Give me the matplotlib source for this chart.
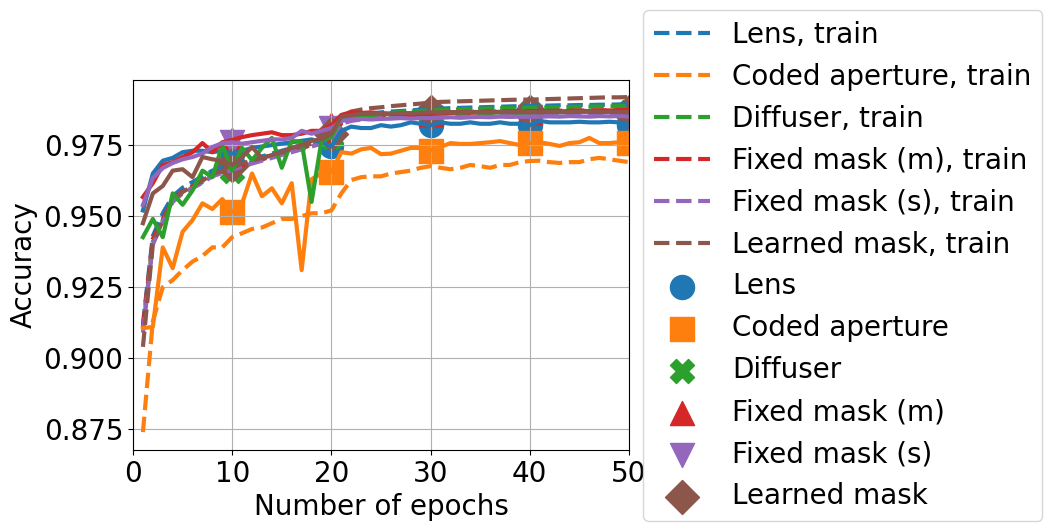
import matplotlib
matplotlib.use("Agg")
import matplotlib.pyplot as plt
import numpy as np

epochs = list(range(1, 51))

lens_train = [0.912, 0.943, 0.951, 0.957, 0.960, 0.962, 0.964, 0.966, 0.967, 0.968,
              0.969, 0.970, 0.971, 0.972, 0.973, 0.974, 0.975, 0.976, 0.9765, 0.977,
              0.9835, 0.9848, 0.9855, 0.986, 0.9865, 0.9868, 0.987, 0.9872, 0.9875, 0.9877,
              0.9878, 0.988, 0.9881, 0.9882, 0.9883, 0.9884, 0.9885, 0.9886, 0.9887, 0.9887,
              0.9888, 0.9889, 0.989, 0.989, 0.9891, 0.9891, 0.9892, 0.9892, 0.9893, 0.9894]
coded_train = [0.874, 0.913, 0.925, 0.9275, 0.931, 0.934, 0.936, 0.939, 0.939, 0.9426,
               0.944, 0.9455, 0.946, 0.9475, 0.949, 0.949, 0.950, 0.951, 0.951, 0.952,
               0.958, 0.9627, 0.9637, 0.964, 0.964, 0.965, 0.9655, 0.966, 0.967, 0.9676,
               0.967, 0.9665, 0.967, 0.968, 0.9676, 0.967, 0.968, 0.968, 0.969, 0.9694,
               0.9695, 0.969, 0.9687, 0.969, 0.969, 0.970, 0.9705, 0.970, 0.9695, 0.969]
diffuser_train = [0.910, 0.941, 0.9485, 0.9555, 0.9585, 0.960, 0.962, 0.9644, 0.9655, 0.9665,
                  0.968, 0.969, 0.970, 0.971, 0.972, 0.973, 0.974, 0.975, 0.976, 0.977,
                  0.983, 0.9842, 0.985, 0.9855, 0.986, 0.9863, 0.9866, 0.9868, 0.987, 0.9872,
                  0.9873, 0.9875, 0.9876, 0.9877, 0.9878, 0.9879, 0.988, 0.988, 0.9881, 0.9882,
                  0.9882, 0.9883, 0.9884, 0.9884, 0.9885, 0.9885, 0.9886, 0.9886, 0.9887, 0.9887]
fixedm_train = [0.911, 0.942, 0.949, 0.9558, 0.9588, 0.9605, 0.9625, 0.9646, 0.9658, 0.9668,
                0.968, 0.969, 0.970, 0.971, 0.972, 0.973, 0.974, 0.975, 0.9758, 0.9768,
                0.9828, 0.984, 0.9846, 0.985, 0.9853, 0.9856, 0.9858, 0.986, 0.9862, 0.9863,
                0.9864, 0.9865, 0.9866, 0.9867, 0.9867, 0.9868, 0.9868, 0.9869, 0.9869, 0.987,
                0.987, 0.987, 0.9871, 0.9871, 0.9871, 0.9872, 0.9872, 0.9872, 0.9873, 0.9873]
fixeds_train = [0.909, 0.940, 0.948, 0.955, 0.958, 0.9598, 0.9618, 0.964, 0.9652, 0.9662,
                0.9675, 0.9685, 0.9695, 0.9705, 0.9715, 0.9725, 0.9735, 0.9745, 0.9755, 0.9765,
                0.9825, 0.9835, 0.984, 0.9843, 0.9845, 0.9847, 0.9849, 0.985, 0.9851, 0.9852,
                0.9853, 0.9853, 0.9854, 0.9855, 0.9855, 0.9856, 0.9856, 0.9857, 0.9857, 0.9857,
                0.9858, 0.9858, 0.9858, 0.9859, 0.9859, 0.9859, 0.986, 0.986, 0.986, 0.986]
learned_train = [0.904, 0.940, 0.9485, 0.9555, 0.9585, 0.9605, 0.9625, 0.9648, 0.966, 0.967,
                 0.9685, 0.9695, 0.9705, 0.9715, 0.9725, 0.9735, 0.9745, 0.9755, 0.9765, 0.978,
                 0.985, 0.9868, 0.9875, 0.988, 0.9883, 0.9887, 0.989, 0.9893, 0.9896, 0.990,
                 0.9902, 0.9903, 0.9904, 0.9905, 0.9906, 0.9907, 0.9908, 0.9909, 0.991, 0.991,
                 0.9911, 0.9912, 0.9913, 0.9914, 0.9915, 0.9916, 0.9917, 0.9918, 0.9918, 0.9919]

lens_test = [0.952, 0.965, 0.9695, 0.9705, 0.9725, 0.973, 0.973, 0.9725, 0.973, 0.972,
             0.973, 0.974, 0.9745, 0.975, 0.9755, 0.976, 0.9765, 0.977, 0.976, 0.9745,
             0.980, 0.9815, 0.981, 0.981, 0.982, 0.9815, 0.982, 0.983, 0.9825, 0.982,
             0.983, 0.9825, 0.9825, 0.983, 0.9825, 0.9825, 0.983, 0.9825, 0.9825, 0.982,
             0.9835, 0.983, 0.983, 0.983, 0.9832, 0.983, 0.983, 0.9832, 0.983, 0.982]
coded_test = [0.9106, 0.911, 0.939, 0.9317, 0.9445, 0.9486, 0.9545, 0.9525, 0.956, 0.9514,
              0.9545, 0.965, 0.957, 0.9598, 0.9545, 0.9616, 0.931, 0.963, 0.965, 0.9655,
              0.9725, 0.972, 0.9735, 0.974, 0.9718, 0.972, 0.973, 0.974, 0.974, 0.973,
              0.9743, 0.9757, 0.9754, 0.9754, 0.9757, 0.976, 0.9764, 0.9757, 0.975, 0.9757,
              0.976, 0.9754, 0.9747, 0.9757, 0.976, 0.9775, 0.9757, 0.9757, 0.976, 0.9757]
diffuser_test = [0.9426, 0.949, 0.9426, 0.958, 0.954, 0.959, 0.966, 0.9637, 0.975, 0.966,
                 0.974, 0.9697, 0.974, 0.9775, 0.967, 0.9765, 0.976, 0.955, 0.9765, 0.9778,
                 0.9845, 0.985, 0.9855, 0.9855, 0.986, 0.9858, 0.986, 0.9862, 0.986, 0.9858,
                 0.9862, 0.9864, 0.9862, 0.9865, 0.9864, 0.9863, 0.9865, 0.9866, 0.9864, 0.9865,
                 0.9866, 0.9867, 0.9865, 0.9866, 0.9868, 0.9867, 0.9866, 0.9868, 0.9867, 0.9868]
fixedm_test = [0.9567, 0.9616, 0.968, 0.969, 0.9708, 0.9725, 0.9757, 0.9725, 0.976, 0.9768,
               0.9778, 0.9785, 0.979, 0.9795, 0.9785, 0.9785, 0.979, 0.980, 0.980, 0.982,
               0.9856, 0.9866, 0.9863, 0.9865, 0.9862, 0.986, 0.9858, 0.9855, 0.9858, 0.986,
               0.9862, 0.9864, 0.9866, 0.9864, 0.9866, 0.9868, 0.9866, 0.9867, 0.9868, 0.9866,
               0.9868, 0.987, 0.9868, 0.987, 0.9871, 0.9869, 0.9871, 0.9872, 0.987, 0.9873]
fixeds_test = [0.9539, 0.9634, 0.9669, 0.9687, 0.970, 0.9708, 0.972, 0.9743, 0.9757, 0.976,
               0.9755, 0.976, 0.9765, 0.977, 0.977, 0.9775, 0.980, 0.979, 0.980, 0.981,
               0.9835, 0.984, 0.9842, 0.984, 0.9842, 0.9843, 0.9845, 0.9843, 0.9845, 0.9845,
               0.9846, 0.9848, 0.9846, 0.9848, 0.9849, 0.9848, 0.985, 0.9849, 0.985, 0.9849,
               0.985, 0.9851, 0.985, 0.9852, 0.9851, 0.985, 0.9852, 0.9851, 0.9852, 0.985]
learned_test = [0.9475, 0.958, 0.9606, 0.966, 0.9665, 0.9637, 0.9708, 0.970, 0.9695, 0.968,
                0.9708, 0.9743, 0.9704, 0.9715, 0.9725, 0.974, 0.975, 0.9765, 0.977, 0.979,
                0.985, 0.9855, 0.986, 0.986, 0.9862, 0.986, 0.9863, 0.9862, 0.9864, 0.9865,
                0.9864, 0.9866, 0.9865, 0.9867, 0.9866, 0.9865, 0.9867, 0.9866, 0.9867, 0.9866,
                0.9867, 0.9866, 0.9867, 0.9866, 0.9867, 0.9868, 0.9866, 0.9867, 0.9866, 0.9866]

names = ["Lens", "Coded aperture", "Diffuser", "Fixed mask (m)", "Fixed mask (s)", "Learned mask"]
train_series = [lens_train, coded_train, diffuser_train, fixedm_train, fixeds_train, learned_train]
test_series = [lens_test, coded_test, diffuser_test, fixedm_test, fixeds_test, learned_test]
markers = ["o", "s", "X", "^", "v", "D"]
colors = ["#1f77b4", "#ff7f0e", "#2ca02c", "#d62728", "#9467bd", "#8c564b"]
marker_epochs = [10, 20, 30, 40, 50]

plt.rcParams['font.size'] = 20
fig = plt.figure(figsize=(10.52, 5.31), dpi=100)
ax = fig.add_axes([133/1052, 1 - 450/531, (629 - 133)/1052, (450 - 80)/531])

ep = np.array(epochs)
for name, tr, c in zip(names, train_series, colors):
    ax.plot(ep, tr, "--", color=c, lw=3, label=f"{name}, train")
for name, te, c, m in zip(names, test_series, colors, markers):
    te = np.array(te)
    ax.plot(ep, te, "-", color=c, lw=3)
    idx = [e - 1 for e in marker_epochs]
    ax.scatter(ep[idx], te[idx], color=c, marker=m, s=300, label=name)

ax.set_xlim(0, 50)
ax.set_ylim(0.8677, 0.9979)
ax.set_yticks([0.875, 0.900, 0.925, 0.950, 0.975])
ax.set_xticks([0, 10, 20, 30, 40, 50])
ax.grid(True)
ax.set_xlabel("Number of epochs")
ax.set_ylabel("Accuracy")

fig.legend(loc="upper left", bbox_to_anchor=(643/1052, 1 - 10/531),
           bbox_transform=fig.transFigure, borderaxespad=0, fontsize=20)

fig.savefig("out.png", dpi=100)
